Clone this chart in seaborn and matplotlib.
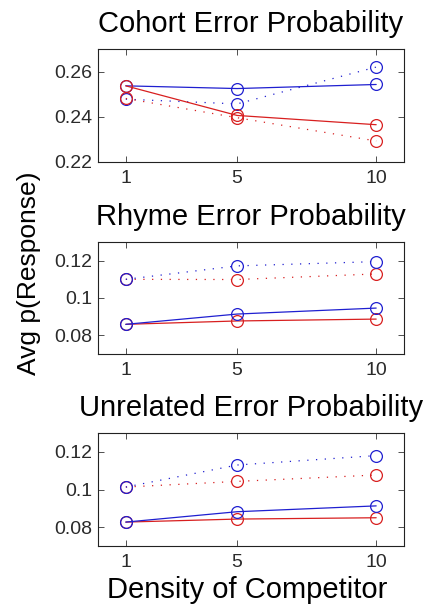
import numpy as np
import pandas as pd
import matplotlib
matplotlib.use('Agg')
import matplotlib.pyplot as plt
import seaborn as sns

# density of competitor
density = [1, 5, 10]

titles = ['Cohort Error Probability', 'Rhyme Error Probability', 'Unrelated Error Probability']

# values, one list per panel
cohort_blue_solid = [0.2537, 0.2525, 0.2543]
cohort_blue_dotted = [0.2478, 0.2457, 0.2620]
cohort_red_solid = [0.2537, 0.2406, 0.2365]
cohort_red_dotted = [0.2481, 0.2396, 0.2293]

rhyme_blue_solid = [0.0859, 0.0914, 0.0946]
rhyme_blue_dotted = [0.1100, 0.1172, 0.1195]
rhyme_red_solid = [0.0859, 0.0877, 0.0887]
rhyme_red_dotted = [0.1100, 0.1099, 0.1129]

unrel_blue_solid = [0.0827, 0.0882, 0.0913]
unrel_blue_dotted = [0.1013, 0.1130, 0.1180]
unrel_red_solid = [0.0827, 0.0843, 0.0850]
unrel_red_dotted = [0.1013, 0.1043, 0.1077]

y_limits = [(0.22, 0.27), (0.07, 0.13), (0.07, 0.13)]
y_ticks = [[0.22, 0.24, 0.26], [0.08, 0.10, 0.12], [0.08, 0.10, 0.12]]
y_ticklabels = [['0.22', '0.24', '0.26'], ['0.08', '0.1', '0.12'], ['0.08', '0.1', '0.12']]

panels = [
    (cohort_blue_solid, cohort_blue_dotted, cohort_red_solid, cohort_red_dotted),
    (rhyme_blue_solid, rhyme_blue_dotted, rhyme_red_solid, rhyme_red_dotted),
    (unrel_blue_solid, unrel_blue_dotted, unrel_red_solid, unrel_red_dotted),
]

sns.set_style('ticks')
plt.rcParams['font.family'] = ['Liberation Sans', 'DejaVu Sans']
plt.rcParams['text.color'] = 'black'
plt.rcParams['axes.titlecolor'] = 'black'

blue = '#1f1fd0'
red = '#d81f1f'
dots = (0, (1, 6))

fig = plt.figure(figsize=(4.24, 6.08), dpi=100)

# axes boxes in pixels: (top, bottom)
boxes = [(49, 162), (242, 354), (433, 546)]
W, H = 424.0, 608.0
left, right = 98, 404

for i, (top, bottom) in enumerate(boxes):
    ax = fig.add_axes([left / W, (H - bottom) / H, (right - left) / W, (bottom - top) / H])
    b_solid, b_dot, r_solid, r_dot = panels[i]
    series = [
        (b_solid, blue, '-'),
        (b_dot, blue, dots),
        (r_solid, red, '-'),
        (r_dot, red, dots),
    ]
    if i > 0:
        # blue circles sit on top in the lower panels
        series = series[2:] + series[:2]
    for vals, col, ls in series:
        sns.lineplot(x=density, y=vals, ax=ax, color=col, linestyle=ls, linewidth=0.9,
                     marker='o', markersize=8.5, markerfacecolor='none',
                     markeredgecolor=col, markeredgewidth=0.9)

    ax.set_xlim(0, 11)
    ax.set_ylim(*y_limits[i])
    ax.set_xticks(density)
    ax.set_xticklabels([str(d) for d in density])
    ax.set_yticks(y_ticks[i])
    ax.set_yticklabels(y_ticklabels[i])
    ax.tick_params(direction='in', top=True, right=True, length=4, width=0.6,
                   labelsize=14, colors='#333333', labelcolor='#2a2a2a')
    ax.tick_params(axis='x', pad=6)
    ax.tick_params(axis='y', pad=4)
    for sp in ax.spines.values():
        sp.set_visible(True)
        sp.set_linewidth(0.8)
        sp.set_color('#222222')
    ax.set_title(titles[i], fontsize=21, pad=12, color='black')

fig.text(29 / W, 1 - 273 / H, 'Avg p(Response)', rotation=90, ha='center', va='center',
         fontsize=19, color='black')
fig.text(247 / W, 1 - 598 / H, 'Density of Competitor', ha='center', va='baseline',
         fontsize=21, color='black')

fig.savefig('out.png', dpi=100)
